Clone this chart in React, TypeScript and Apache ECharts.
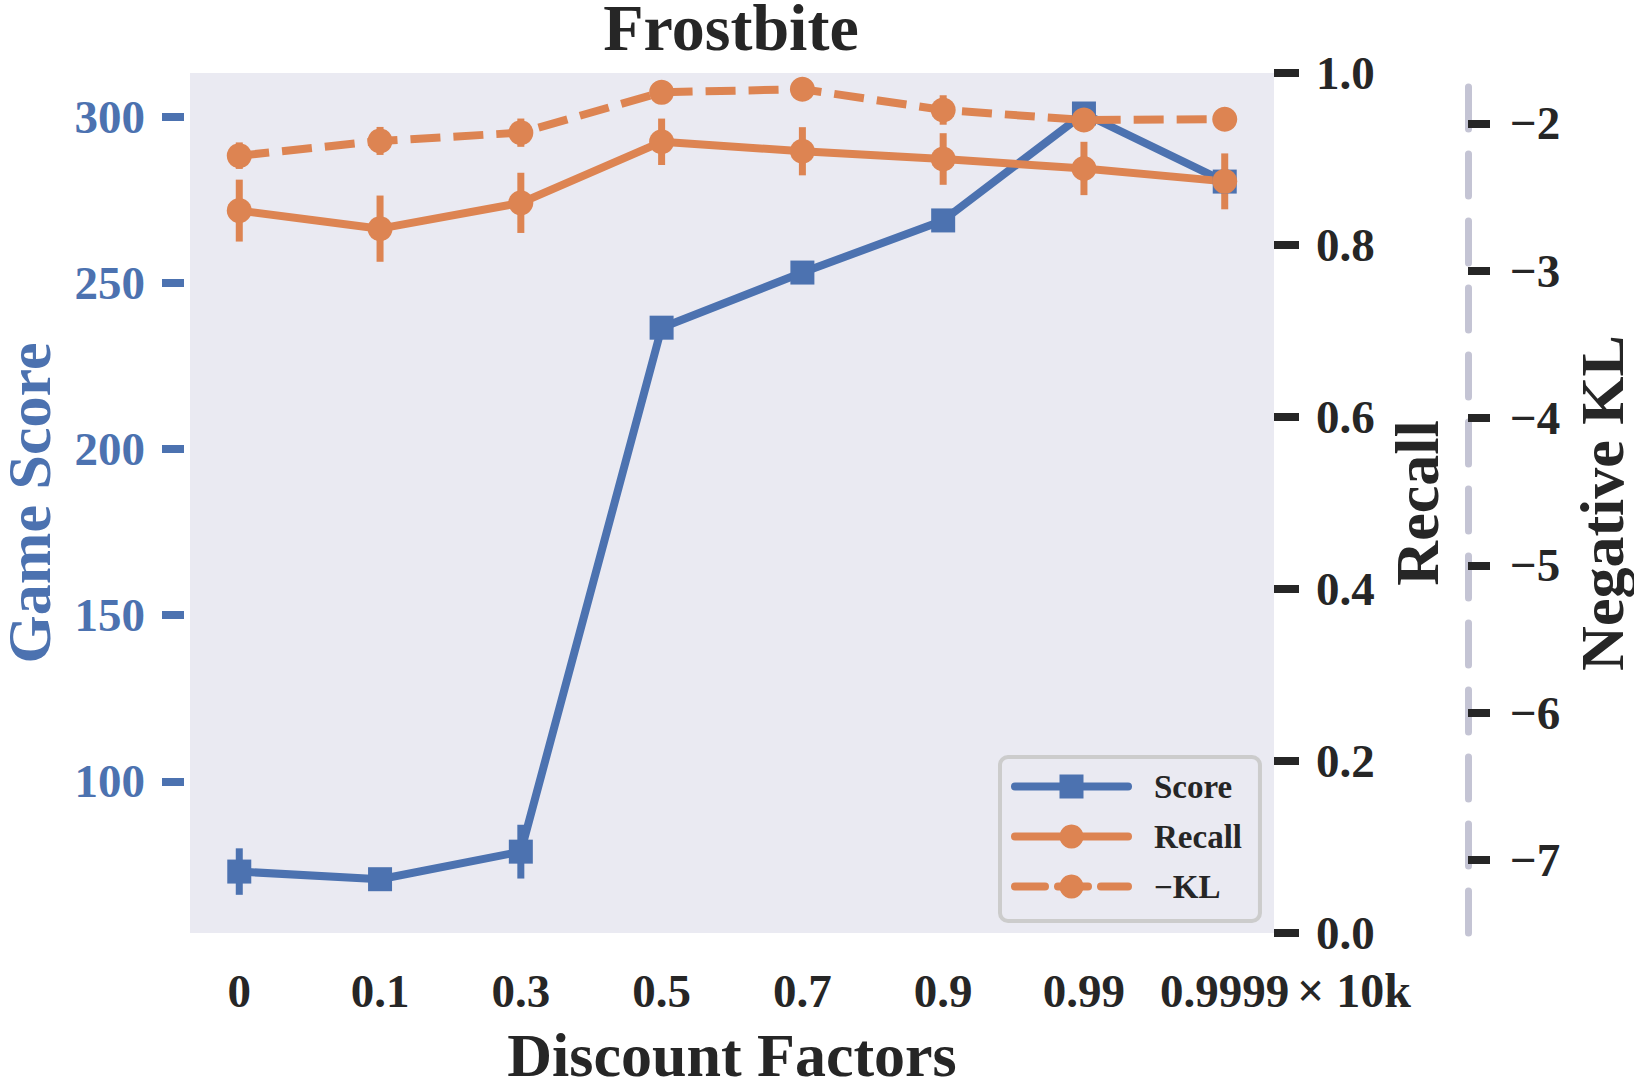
import React, { useEffect, useRef } from "react";
import * as echarts from "echarts";

const categories = ["0", "0.1", "0.3", "0.5", "0.7", "0.9", "0.99", "0.9999"];
const xPositions = [0, 1, 2, 3, 4, 5, 6, 7];
const scoreValues = [72.8, 70.5, 78.8, 236.6, 253.2, 268.9, 301.1, 280.6];
const scoreErrors = [7.0, 1.5, 8.1, 1.5, 1.5, 1.5, 1.5, 1.5];
const recallValues = [0.84, 0.819, 0.849, 0.92, 0.909, 0.9, 0.889, 0.874];
const recallErrors = [0.036, 0.0385, 0.035, 0.027, 0.028, 0.03, 0.031, 0.0325];
const klValues = [-2.22, -2.12, -2.064, -1.79, -1.769, -1.91, -1.978, -1.973];
const klErrors = [0.09, 0.095, 0.096, 0.05, 0.05, 0.1, 0.05, 0.05];
const scoreTicks = [100, 150, 200, 250, 300];
const klTicks = [-7, -6, -5, -4, -3, -2];

const BLUE = "#4c72b0";
const ORANGE = "#dd8452";
const DARK = "#262626";
const FONT = "'Liberation Serif', 'Times New Roman', serif";

function errSeries(name: string, values: number[], errors: number[], color: string, yAxisIndex: number) {
  return {
    type: "custom",
    name,
    xAxisIndex: 0,
    yAxisIndex,
    silent: true,
    encode: { x: 0, y: [1, 2] },
    data: values.map((v, i) => [xPositions[i], v - errors[i], v + errors[i]]),
    renderItem: (params: any, api: any) => {
      const p1 = api.coord([api.value(0), api.value(1)]);
      const p2 = api.coord([api.value(0), api.value(2)]);
      return {
        type: "line",
        shape: { x1: p1[0], y1: p1[1], x2: p2[0], y2: p2[1] },
        style: { stroke: color, lineWidth: 7 },
      };
    },
  };
}

export default function App() {
  const ref = useRef<HTMLDivElement>(null);
  useEffect(() => {
    document.body.style.margin = "0";
    const chart = echarts.init(ref.current!, null, { renderer: "svg" });
    const tickFont = { fontFamily: FONT, fontWeight: "bold", fontSize: 47, color: DARK };
    const nameFont = { fontFamily: FONT, fontWeight: "bold", fontSize: 62, color: DARK, lineHeight: 48 };
    chart.setOption({
      animation: false,
      backgroundColor: "#ffffff",
      title: {
        text: "Frostbite",
        left: 731,
        top: 2,
        padding: 0,
        textAlign: "center",
        textStyle: { fontFamily: FONT, fontWeight: "bold", fontSize: 66, color: DARK, lineHeight: 50 },
      },
      grid: {
        left: 190,
        top: 73,
        right: 360,
        bottom: 156,
        show: true,
        backgroundColor: "#eaeaf2",
        borderWidth: 0,
        outerBoundsMode: "none",
        containLabel: false,
      },
      legend: {
        data: ["Score", "Recall", "−KL"],
        orient: "vertical",
        left: 1000,
        top: 757,
        padding: [13, 18, 18, 11],
        itemWidth: 113,
        itemHeight: 30,
        itemGap: 17,
        backgroundColor: "rgba(234,234,242,0.85)",
        borderColor: "#cccccc",
        borderWidth: 4,
        borderRadius: 8,
        lineStyle: { width: 8, cap: "round" },
        textStyle: { fontFamily: FONT, fontWeight: "bold", fontSize: 33, color: DARK, padding: [0, 0, 0, 21] },
      },
      xAxis: {
        type: "value",
        min: -0.35,
        max: 7.35,
        axisLine: { show: false, onZero: false },
        axisTick: { show: false },
        splitLine: { show: false },
        axisLabel: {
          customValues: xPositions,
          formatter: (v: number) => categories[Math.round(v)],
          margin: 34,
          ...tickFont,
        },
        name: "Discount Factors",
        nameLocation: "middle",
        nameGap: 98,
        nameTextStyle: nameFont,
      },
      yAxis: [
        {
          type: "value",
          position: "left",
          min: 54.3,
          max: 313.3,
          offset: 6,
          axisLine: { show: false, onZero: false },
          splitLine: { show: false },
          axisTick: { show: true, customValues: scoreTicks, length: 22, lineStyle: { color: BLUE, width: 8 } },
          axisLabel: { customValues: scoreTicks, margin: 39, ...tickFont, color: BLUE },
          name: "Game Score",
          nameLocation: "middle",
          nameRotate: 90,
          nameGap: 131,
          nameTextStyle: { ...nameFont, color: BLUE },
        },
        {
          type: "value",
          position: "right",
          min: 0,
          max: 1,
          interval: 0.2,
          axisLine: { show: false, onZero: false },
          splitLine: { show: false },
          axisTick: { show: true, length: 25, lineStyle: { color: DARK, width: 8 } },
          axisLabel: { margin: 42, formatter: (v: number) => v.toFixed(1), ...tickFont },
          name: "Recall",
          nameLocation: "middle",
          nameRotate: 90,
          nameGap: 115,
          nameTextStyle: nameFont,
        },
        {
          type: "value",
          position: "right",
          offset: 194,
          min: -7.495,
          max: -1.659,
          axisLine: { show: true, onZero: false, lineStyle: { color: "#c4c4d4", width: 7, type: [42, 25] } },
          splitLine: { show: false },
          axisTick: { show: true, customValues: klTicks, length: 22, lineStyle: { color: DARK, width: 8 } },
          axisLabel: {
            customValues: klTicks,
            margin: 42,
            formatter: (v: number) => (v < 0 ? "−" + Math.abs(v) : String(v)),
            ...tickFont,
          },
          name: "Negative KL",
          nameLocation: "middle",
          nameRotate: 90,
          nameGap: 88,
          nameTextStyle: nameFont,
        },
      ],
      graphic: [
        {
          type: "text",
          left: 1297,
          top: 966,
          style: { text: "× 10k", fontFamily: FONT, fontWeight: "bold", fontSize: 48, fill: DARK },
        },
      ],
      series: [
        {
          type: "line",
          name: "Score",
          xAxisIndex: 0,
          yAxisIndex: 0,
          data: scoreValues.map((v, i) => [xPositions[i], v]),
          symbol: "rect",
          symbolSize: 24,
          lineStyle: { color: BLUE, width: 8 },
          itemStyle: { color: BLUE },
        },
        errSeries("Score error", scoreValues, scoreErrors, BLUE, 0),
        {
          type: "line",
          name: "Recall",
          xAxisIndex: 0,
          yAxisIndex: 1,
          data: recallValues.map((v, i) => [xPositions[i], v]),
          symbol: "circle",
          symbolSize: 25,
          lineStyle: { color: ORANGE, width: 8 },
          itemStyle: { color: ORANGE },
        },
        errSeries("Recall error", recallValues, recallErrors, ORANGE, 1),
        {
          type: "line",
          name: "−KL",
          xAxisIndex: 0,
          yAxisIndex: 2,
          data: klValues.map((v, i) => [xPositions[i], v]),
          symbol: "circle",
          symbolSize: 25,
          lineStyle: { color: ORANGE, width: 8, type: [30, 13] },
          itemStyle: { color: ORANGE },
        },
        errSeries("KL error", klValues, klErrors, ORANGE, 2),
      ],
    });
    return () => chart.dispose();
  }, []);
  return <div ref={ref} style={{ width: 1634, height: 1089 }} />;
}
